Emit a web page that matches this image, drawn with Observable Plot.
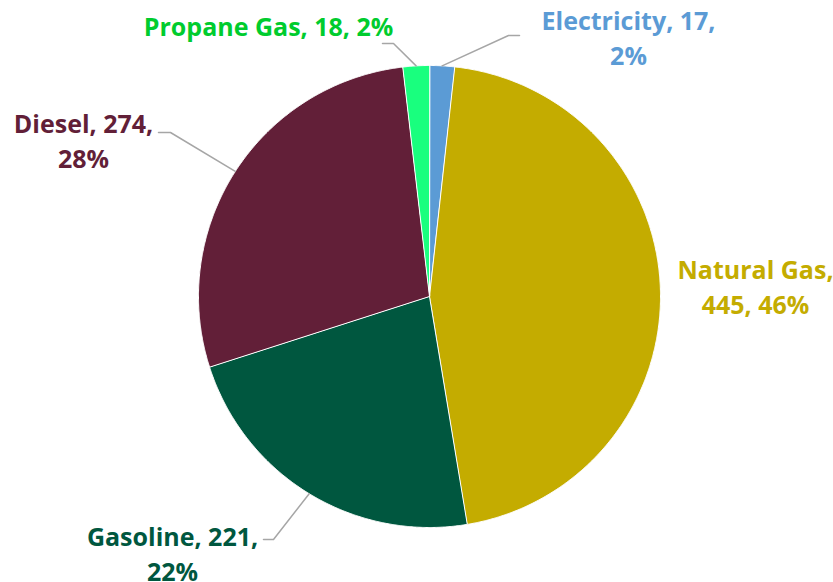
<!DOCTYPE html>
<html><head><meta charset="utf-8">
<script src="https://cdn.jsdelivr.net/npm/d3@7"></script>
<script src="https://cdn.jsdelivr.net/npm/@observablehq/plot@0.6"></script>
<style>body{margin:0;background:#fff}#chart{width:833px;height:582px}</style>
</head><body><div id="chart"></div>
<script>
// ---- data ----
const fuels = ["Electricity", "Natural Gas", "Gasoline", "Diesel", "Propane Gas"];
const values = [17, 445, 221, 274, 18];
const percents = ["2%", "46%", "22%", "28%", "2%"];
const sliceColors = ["#5B9BD5", "#C4AC00", "#00573F", "#621F38", "#19FF7E"];
const labelColors = ["#5B9BD5", "#C4AC00", "#00573F", "#621F38", "#00CC2E"];

// ---- layout (pixels) ----
const W = 833, H = 582;
const CX = 429, CY = 296, R = 231;
const FS = 25, LINE = 35;
const labelLayout = {
  "Electricity": {split: 2, x: 628, y: 29, elbow: [508, 35], end: [519, 35]},
  "Natural Gas": {split: 1, x: 755, y: 278},
  "Gasoline":    {split: 2, x: 172, y: 545, elbow: [273, 539], end: [263, 539]},
  "Diesel":      {split: 2, x: 83,  y: 132, elbow: [170, 132], end: [158, 132]},
  "Propane Gas": {split: 0, x: 268, y: 35,  elbow: [393, 43], end: [382, 43]}
};
const toX = px => (px - CX) / R;
const toY = py => (CY - py) / R;

const arcs = d3.pie().sort(null).value(d => d)(values);

// slice outlines (sampled arc polygons)
const slicePts = [];
arcs.forEach((a, i) => {
  slicePts.push({fuel: fuels[i], x: 0, y: 0});
  const n = Math.max(2, Math.ceil((a.endAngle - a.startAngle) / 0.005));
  for (let k = 0; k <= n; k++) {
    const t = a.startAngle + (a.endAngle - a.startAngle) * k / n;
    slicePts.push({fuel: fuels[i], x: Math.sin(t), y: Math.cos(t)});
  }
});

// leader lines
const leaderPts = [];
arcs.forEach((a, i) => {
  const L = labelLayout[fuels[i]];
  if (!L.elbow) return;
  const m = (a.startAngle + a.endAngle) / 2;
  leaderPts.push({fuel: fuels[i], x: Math.sin(m), y: Math.cos(m)});
  leaderPts.push({fuel: fuels[i], x: toX(L.elbow[0]), y: toY(L.elbow[1])});
  leaderPts.push({fuel: fuels[i], x: toX(L.end[0]), y: toY(L.end[1])});
});

// label lines
const textRows = [];
fuels.forEach((f, i) => {
  const L = labelLayout[f];
  let lines;
  if (L.split === 0) lines = [`${f}, ${values[i]}, ${percents[i]}`];
  else if (L.split === 1) lines = [`${f},`, `${values[i]}, ${percents[i]}`];
  else lines = [`${f}, ${values[i]},`, percents[i]];
  lines.forEach((t, j) => textRows.push({
    fuel: f, text: t, color: labelColors[i],
    x: toX(L.x), y: toY(L.y + j * LINE)
  }));
});

const chart = Plot.plot({
  width: W, height: H,
  margin: 0,
  x: {domain: [-1, 1], range: [CX - R, CX + R], axis: null},
  y: {domain: [-1, 1], range: [CY + R, CY - R], axis: null},
  color: {domain: fuels, range: sliceColors},
  style: {background: "#fff", fontFamily: "'Open Sans', Lato, sans-serif"},
  marks: [
    Plot.line(slicePts, {x: "x", y: "y", z: "fuel", fill: "fuel", stroke: "#ffffff", strokeWidth: 1, curve: "linear-closed"}),
    Plot.line(leaderPts, {x: "x", y: "y", z: "fuel", stroke: "#A6A6A6", strokeWidth: 1.5}),
    Plot.text(textRows, {x: "x", y: "y", text: "text", fill: d => d.color, fontSize: FS, fontWeight: "bold", textAnchor: "middle", lineAnchor: "bottom"})
  ]
});
document.getElementById("chart").appendChild(chart);
</script>
</body></html>
